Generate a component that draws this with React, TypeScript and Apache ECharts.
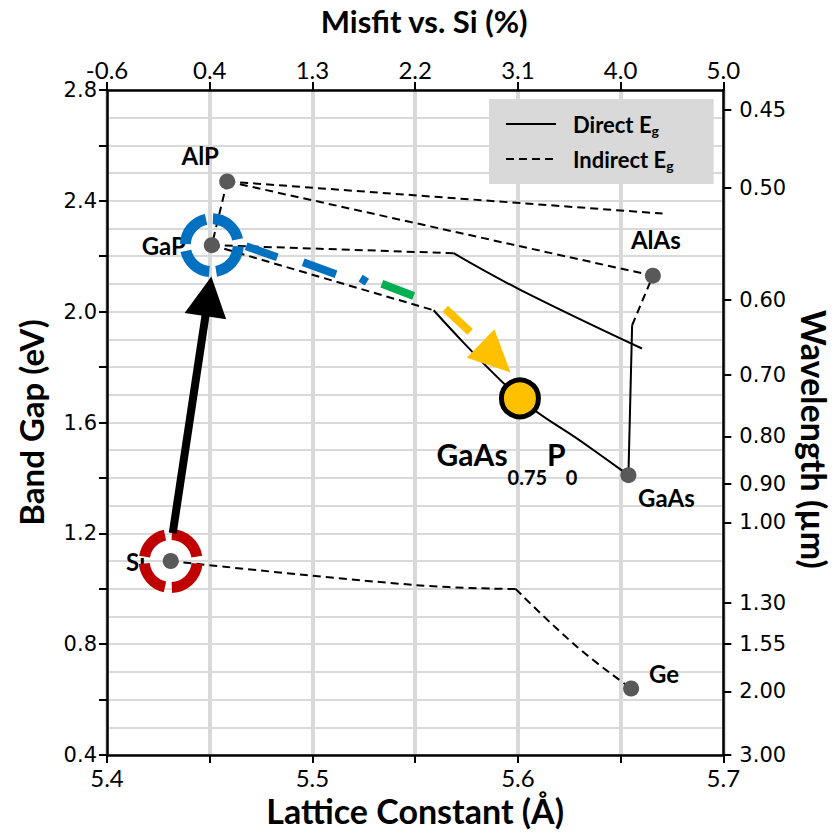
import React, { useEffect, useRef } from "react";
import * as echarts from "echarts";

// ---- axes ----
const latticeMin = 5.4;
const latticeMax = 5.7;
const latticeStep = 0.05;
const bottomTickLabels = ["5.4", "", "5.5", "", "5.6", "", "5.7"];
const misfitTickLabels = ["-0.6", "0.4", "1.3", "2.2", "3.1", "4.0", "5.0"];
const gapMin = 0.4;
const gapMax = 2.8;
const gapStep = 0.2;
const leftTickLabels = ["0.4", "", "0.8", "", "1.2", "", "1.6", "", "2.0", "", "2.4", "", "2.8"];
// right axis: wavelength labels and the band-gap level (eV) where each one sits
const wavelengthTickLabels = ["0.45", "0.50", "0.60", "0.70", "0.80", "0.90", "1.00", "1.30", "1.55", "2.00", "3.00"];
const wavelengthTickGap = [2.728, 2.448, 2.042, 1.771, 1.55, 1.378, 1.24, 0.95, 0.8, 0.63, 0.4];

// ---- binary compounds (lattice constant Å, band gap eV) ----
const materialNames = ["Si", "GaP", "AlP", "AlAs", "GaAs", "Ge"];
const materialLattice = [5.431, 5.451, 5.4585, 5.6657, 5.6538, 5.6551];
const materialGap = [1.1, 2.24, 2.47, 2.13, 1.41, 0.64];

// ---- target alloy ----
const targetLattice = 5.601;
const targetGap = 1.687;

// ---- band-gap curves ----
const directCurves: number[][][] = [
  [[5.5687, 2.211], [5.6002, 2.0825], [5.6604, 1.867]],
  [[5.559, 2.005], [5.601, 1.687], [5.6308, 1.532], [5.6538, 1.41]],
  [[5.6538, 1.41], [5.6556, 1.951]],
];
const indirectCurves: number[][][] = [
  [[5.4585, 2.47], [5.451, 2.24]],
  [[5.4585, 2.47], [5.6704, 2.354]],
  [[5.4585, 2.47], [5.6657, 2.13]],
  [[5.451, 2.24], [5.5687, 2.211]],
  [[5.451, 2.24], [5.559, 2.005]],
  [[5.6556, 1.951], [5.6657, 2.13]],
  [[5.431, 1.1], [5.5505, 1.013], [5.5989, 0.999]],
  [[5.5989, 0.999], [5.6287, 0.791], [5.6551, 0.64]],
];

// ---- annotations (data units) ----
const siToGapArrow = [[5.432, 1.201], [5.4508, 2.127]];
const pathDashes = [
  [[5.46771, 2.2359], [5.48288, 2.1964]],
  [[5.49548, 2.1784], [5.51147, 2.1353]],
  [[5.52344, 2.121], [5.52649, 2.1066]],
  [[5.53377, 2.1005], [5.54928, 2.0563]],
  [[5.56464, 2.0107], [5.57676, 1.9269]],
];
const pathDashColors = ["#0070C0", "#0070C0", "#0070C0", "#00B050", "#FFC000"];
const pathHead = [[5.57511, 1.8335], [5.58853, 1.9366], [5.59643, 1.7807]];
const ringCenters = [[5.431, 1.1], [5.451, 2.24]];
const ringColors = ["#C00000", "#0070C0"];
const ringGapAngles = [[95, 2, -95, -182], [95, 5, -88, -175]];

const LABEL_FONT = "Lato";
const TICK_FONT = "DejaVu Sans";

const labelOffsets: Record<string, number[]> = {
  Si: [-35, 0],
  GaP: [-48, 0],
  AlP: [-27, -26],
  AlAs: [3, -36],
  GaAs: [38, 22],
  Ge: [33, -15],
};

export default function App() {
  const ref = useRef<HTMLDivElement>(null);
  useEffect(() => {
    if (!ref.current) return;
    const chart = echarts.init(ref.current, undefined, { renderer: "svg" });

    const solid = { color: "#000", width: 2, type: "solid" as const };
    const dashed = { color: "#000", width: 2, type: [8, 5] as any };

    const curveSeries: any[] = [];
    directCurves.forEach((c) =>
      curveSeries.push({
        name: "Direct",
        type: "line",
        data: c,
        symbol: "none",
        smooth: c.length > 2 ? 0.4 : false,
        lineStyle: solid,
        itemStyle: { color: "#000" },
        z: 2,
        silent: true,
      })
    );
    indirectCurves.forEach((c) =>
      curveSeries.push({
        name: "Indirect",
        type: "line",
        data: c,
        symbol: "none",
        smooth: c.length > 2 ? 0.4 : false,
        lineStyle: dashed,
        itemStyle: { color: "#000" },
        z: 2,
        silent: true,
      })
    );

    const renderAnnotations = (_params: any, api: any) => {
      const children: any[] = [];
      const h = 7.5;
      ringCenters.forEach((c, i) => {
        const [cx, cy] = api.coord(c);
        const gaps = ringGapAngles[i];
        for (let k = 0; k < gaps.length; k++) {
          const hi = gaps[k] - h;
          const lo = (k + 1 < gaps.length ? gaps[k + 1] : gaps[0] - 360) + h;
          children.push({
            type: "arc",
            shape: {
              cx,
              cy,
              r: 26.5,
              startAngle: (-hi * Math.PI) / 180,
              endAngle: (-lo * Math.PI) / 180,
              clockwise: true,
            },
            style: { stroke: ringColors[i], lineWidth: 11, fill: "none" },
          });
        }
      });
      // black arrow
      const [x1, y1] = api.coord(siToGapArrow[0]);
      const [x2, y2] = api.coord(siToGapArrow[1]);
      const dx = x2 - x1;
      const dy = y2 - y1;
      const L = Math.hypot(dx, dy);
      const ux = dx / L;
      const uy = dy / L;
      const nx = -uy;
      const ny = ux;
      const headLen = 40;
      const headHalf = 21;
      const bx = x2 - ux * headLen;
      const by = y2 - uy * headLen;
      children.push({
        type: "line",
        shape: { x1, y1, x2: bx + ux * 2, y2: by + uy * 2 },
        style: { stroke: "#000", lineWidth: 8 },
      });
      children.push({
        type: "polygon",
        shape: {
          points: [
            [x2, y2],
            [bx + nx * headHalf, by + ny * headHalf],
            [bx - nx * headHalf, by - ny * headHalf],
          ],
        },
        style: { fill: "#000" },
      });
      // coloured dashed path
      pathDashes.forEach((d, i) => {
        const [a1, b1] = api.coord(d[0]);
        const [a2, b2] = api.coord(d[1]);
        children.push({
          type: "line",
          shape: { x1: a1, y1: b1, x2: a2, y2: b2 },
          style: { stroke: pathDashColors[i], lineWidth: 8, lineCap: "butt" },
        });
      });
      children.push({
        type: "polygon",
        shape: { points: pathHead.map((p) => api.coord(p)) },
        style: { fill: "#FFC000" },
      });
      return { type: "group", children };
    };

    const wavelengthLabelFor = (v: number) => {
      const i = wavelengthTickGap.findIndex((g) => Math.abs(g - v) < 1e-6);
      return i >= 0 ? wavelengthTickLabels[i] : "";
    };

    const option: any = {
      animation: false,
      backgroundColor: "#fff",
      grid: { left: 107, right: 113, top: 87, bottom: 80 },
      legend: {
        data: ["Direct", "Indirect"],
        orient: "vertical",
        left: 489,
        top: 99,
        backgroundColor: "#D9D9D9",
        padding: [12, 40, 12, 16],
        itemGap: 9,
        itemWidth: 50,
        itemHeight: 14,
        selectedMode: false,
        itemStyle: { opacity: 0 },
        formatter: (n: string) => `{t|${n} E}{s|g}`,
        textStyle: {
          rich: {
            t: {
              fontFamily: LABEL_FONT,
              fontWeight: "bold",
              fontSize: 22,
              lineHeight: 25,
              color: "#000",
              padding: [0, 0, 0, 12],
            },
            s: {
              fontFamily: LABEL_FONT,
              fontWeight: "bold",
              fontSize: 14,
              lineHeight: 13,
              color: "#000",
              padding: [12, 0, 0, 0],
            },
          },
        },
      },
      xAxis: [
        {
          type: "value",
          position: "bottom",
          min: latticeMin,
          max: latticeMax,
          interval: latticeStep,
          name: "Lattice Constant (Å)",
          nameLocation: "middle",
          nameGap: 36,
          nameTextStyle: { fontFamily: LABEL_FONT, fontWeight: "bold", fontSize: 34, color: "#000" },
          axisLine: { show: true, onZero: false, lineStyle: { color: "#000", width: 2.5 } },
          axisTick: { show: true, inside: false, length: 8, lineStyle: { color: "#000", width: 2 } },
          axisLabel: {
            fontFamily: LABEL_FONT,
            fontSize: 24,
            color: "#000",
            margin: 10,
            formatter: (v: number) => bottomTickLabels[Math.round((v - latticeMin) / latticeStep)] ?? "",
          },
          splitLine: { show: true, lineStyle: { color: "#D9D9D9", width: 4 } },
        },
        {
          type: "value",
          position: "top",
          min: latticeMin,
          max: latticeMax,
          interval: latticeStep,
          name: "Misfit vs. Si (%)",
          nameLocation: "middle",
          nameGap: 54,
          nameTextStyle: {
            fontFamily: LABEL_FONT,
            fontWeight: "bold",
            fontSize: 31,
            color: "#000",
            padding: [0, 0, 0, 18],
          },
          axisLine: { show: true, onZero: false, lineStyle: { color: "#000", width: 2.5 } },
          axisTick: { show: true, inside: false, length: 8, lineStyle: { color: "#000", width: 2 } },
          axisLabel: {
            fontFamily: LABEL_FONT,
            fontSize: 24,
            color: "#000",
            margin: 9,
            formatter: (v: number) => misfitTickLabels[Math.round((v - latticeMin) / latticeStep)] ?? "",
          },
          splitLine: { show: false },
        },
      ],
      yAxis: [
        {
          type: "value",
          position: "left",
          min: gapMin,
          max: gapMax,
          interval: gapStep,
          name: "Band Gap (eV)",
          nameLocation: "middle",
          nameGap: 60,
          nameTextStyle: { fontFamily: LABEL_FONT, fontWeight: "bold", fontSize: 33, color: "#000" },
          axisLine: { show: true, onZero: false, lineStyle: { color: "#000", width: 2.5 } },
          axisTick: { show: true, inside: false, length: 8, lineStyle: { color: "#000", width: 2 } },
          axisLabel: {
            fontFamily: TICK_FONT,
            fontSize: 21,
            color: "#000",
            margin: 10,
            formatter: (v: number) => leftTickLabels[Math.round((v - gapMin) / gapStep)] ?? "",
          },
          splitLine: { show: true, lineStyle: { color: "#D9D9D9", width: 2 } },
          minorTick: { show: false, splitNumber: 2 },
          minorSplitLine: { show: true, lineStyle: { color: "#D9D9D9", width: 2 } },
        },
        {
          type: "value",
          position: "right",
          min: gapMin,
          max: gapMax,
          name: "Wavelength (µm)",
          nameLocation: "middle",
          nameGap: 72,
          nameRotate: -90,
          nameTextStyle: {
            fontFamily: LABEL_FONT,
            fontWeight: "bold",
            fontSize: 34,
            color: "#000",
            padding: [0, 0, 0, 34],
          },
          axisLine: { show: true, onZero: false, lineStyle: { color: "#000", width: 2.5 } },
          axisTick: {
            show: true,
            inside: false,
            length: 8,
            customValues: wavelengthTickGap,
            lineStyle: { color: "#000", width: 2 },
          },
          axisLabel: {
            fontFamily: TICK_FONT,
            fontSize: 21,
            color: "#000",
            margin: 16,
            customValues: wavelengthTickGap,
            formatter: wavelengthLabelFor,
          },
          splitLine: { show: false },
        },
      ],
      series: [
        ...curveSeries,
        {
          name: "materials",
          type: "scatter",
          symbol: "circle",
          symbolSize: 16,
          itemStyle: { color: "#595959", opacity: 1 },
          z: 3,
          silent: true,
          data: materialNames.map((n, i) => ({
            name: n,
            value: [materialLattice[i], materialGap[i]],
            label: {
              show: true,
              position: "inside",
              offset: labelOffsets[n],
              formatter: "{b}",
              fontFamily: LABEL_FONT,
              fontWeight: "bold",
              fontSize: 24,
              color: "#000",
              opacity: 1,
            },
          })),
        },
        {
          name: "annotations",
          type: "custom",
          coordinateSystem: "cartesian2d",
          renderItem: renderAnnotations,
          data: [[5.5, 1.5]],
          clip: false,
          silent: true,
          z: 4,
        },
        {
          name: "target",
          type: "scatter",
          symbol: "circle",
          symbolSize: 37,
          z: 5,
          silent: true,
          itemStyle: { color: "#FFC000", borderColor: "#000", borderWidth: 5, opacity: 1 },
          data: [
            {
              name: "GaAs0.75P0",
              value: [targetLattice, targetGap],
              label: {
                show: true,
                position: "inside",
                offset: [-13, 56],
                opacity: 1,
                formatter: "{a|GaAs}{b|0.75}{a|P}{b|0}",
                rich: {
                  a: { fontFamily: LABEL_FONT, fontWeight: "bold", fontSize: 30, lineHeight: 34, color: "#000" },
                  b: {
                    fontFamily: LABEL_FONT,
                    fontWeight: "bold",
                    fontSize: 20,
                    lineHeight: 19,
                    color: "#000",
                    padding: [46, 0, 0, 0],
                  },
                },
              },
            },
          ],
        },
      ],
    };
    chart.setOption(option);
    return () => chart.dispose();
  }, []);
  return (
    <div
      ref={ref}
      style={{ position: "fixed", left: 0, top: 0, width: 839, height: 835, background: "#fff" }}
    />
  );
}
